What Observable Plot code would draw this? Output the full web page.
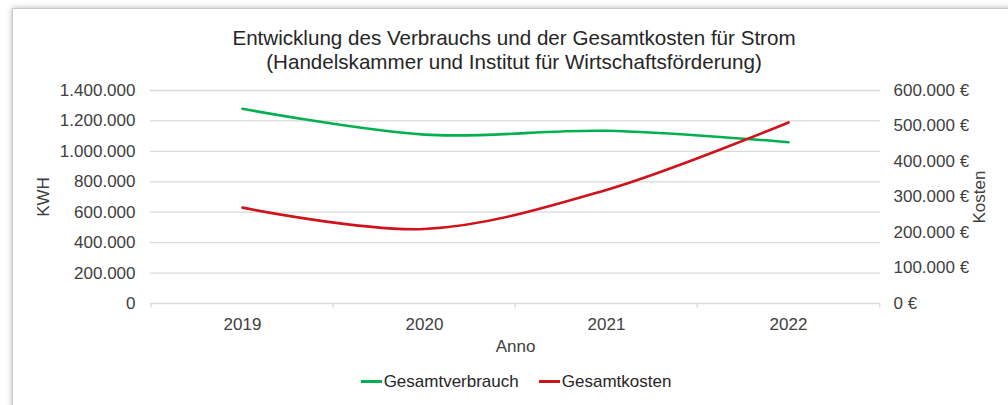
<!DOCTYPE html>
<html>
<head>
<meta charset="utf-8">
<script src="https://cdn.jsdelivr.net/npm/d3@7"></script>
<script src="https://cdn.jsdelivr.net/npm/@observablehq/plot@0.6"></script>
<style>
  html, body { margin: 0; padding: 0; background: #ffffff; overflow: hidden; }
  #wrap { position: relative; width: 1008px; height: 405px; font-family: "Liberation Sans", Arial, sans-serif; }
  #card { position: absolute; left: 12px; top: 8px; width: 1010px; height: 420px; background: #fff;
          border: 1px solid #c8c8c8; box-shadow: 0 0 6px rgba(0,0,0,0.28); }
  #title { position: absolute; left: 0; width: 1028px; top: 26px; text-align: center; color: #262626;
           font-size: 20.6px; line-height: 24px; }
  #chart { position: absolute; left: 0; top: 0; }
  #legend { position: absolute; left: 0; width: 1032px; top: 368px; text-align: center; color: #262626; font-size: 17px; }
  .item { display: inline-flex; align-items: center; margin: 0 10px; }
  .sw { display: inline-block; width: 21px; height: 3px; margin-right: 2px; }
</style>
</head>
<body>
<div id="wrap">
  <div id="card"></div>
  <div id="title"></div>
  <div id="chart"></div>
  <div id="legend"></div>
</div>
<script>
const titleLines = ["Entwicklung des Verbrauchs und der Gesamtkosten für Strom", "(Handelskammer und Institut für Wirtschaftsförderung)"];
const years = ["2019", "2020", "2021", "2022"];
const verbrauch = [1280000, 1110000, 1135000, 1060000];
const kosten = [270000, 210000, 320000, 510000];
const kwhTicks = [0, 200000, 400000, 600000, 800000, 1000000, 1200000, 1400000];
const euroTicks = [0, 100000, 200000, 300000, 400000, 500000, 600000];
const seriesNames = ["Gesamtverbrauch", "Gesamtkosten"];
const seriesColors = ["#00b050", "#d0121b"];
const yLabelLeft = "KWH";
const yLabelRight = "Kosten";
const xLabel = "Anno";

const kwhMax = 1400000, euroMax = 600000;
const k = kwhMax / euroMax;
const de = d3.formatLocale({decimal: ",", thousands: ".", grouping: [3], currency: ["", " €"]});
const fmt = de.format(",");
const textColor = "#404040";

const data = years.map((y, i) => ({year: y, verbrauch: verbrauch[i], kosten: kosten[i]}));

document.getElementById("title").innerHTML = titleLines.join("<br>");
document.getElementById("legend").innerHTML = seriesNames.map((n, i) =>
  `<span class="item"><span class="sw" style="background:${seriesColors[i]}"></span>${n}</span>`).join("");

const step = (880 - 150) / years.length;

const chart = Plot.plot({
  width: 1008,
  height: 405,
  marginLeft: 150,
  marginRight: 128,
  marginTop: 90,
  marginBottom: 102,
  x: {type: "point", domain: years, padding: 0.5},
  y: {domain: [0, kwhMax]},
  style: {fontFamily: "'Liberation Sans', Arial, sans-serif", fontSize: "17px", color: textColor, background: "transparent", overflow: "visible"},
  marks: [
    Plot.ruleY(kwhTicks, {stroke: "#d9d9d9", strokeWidth: 1.3}),
    Plot.ruleX(years, {x: d => d, dx: -step / 2, y1: 0, y2: -30000, stroke: "#d9d9d9", strokeWidth: 1.3}),
    Plot.ruleX(years.slice(-1), {x: d => d, dx: step / 2, y1: 0, y2: -30000, stroke: "#d9d9d9", strokeWidth: 1.3}),
    Plot.axisY(kwhTicks, {anchor: "left", tickSize: 0, tickPadding: 15, tickFormat: fmt,
      label: yLabelLeft, labelAnchor: "center", labelArrow: "none", labelOffset: 114, fill: textColor}),
    Plot.axisY(euroTicks.map(v => v * k), {anchor: "right", tickSize: 0, tickPadding: 13,
      tickFormat: d => fmt(Math.round(d / k)) + " €",
      label: yLabelRight, labelAnchor: "center", labelArrow: "none", labelOffset: 104, fill: textColor}),
    Plot.axisX(years, {tickSize: 0, tickPadding: 14, label: xLabel, labelAnchor: "center", labelArrow: "none", labelOffset: 48, fill: textColor}),
    Plot.line(data, {x: "year", y: "verbrauch", curve: "catmull-rom", stroke: seriesColors[0], strokeWidth: 2.6}),
    Plot.line(data, {x: "year", y: d => d.kosten * k, curve: "catmull-rom", stroke: seriesColors[1], strokeWidth: 2.6})
  ]
});
document.getElementById("chart").appendChild(chart);
</script>
</body>
</html>
